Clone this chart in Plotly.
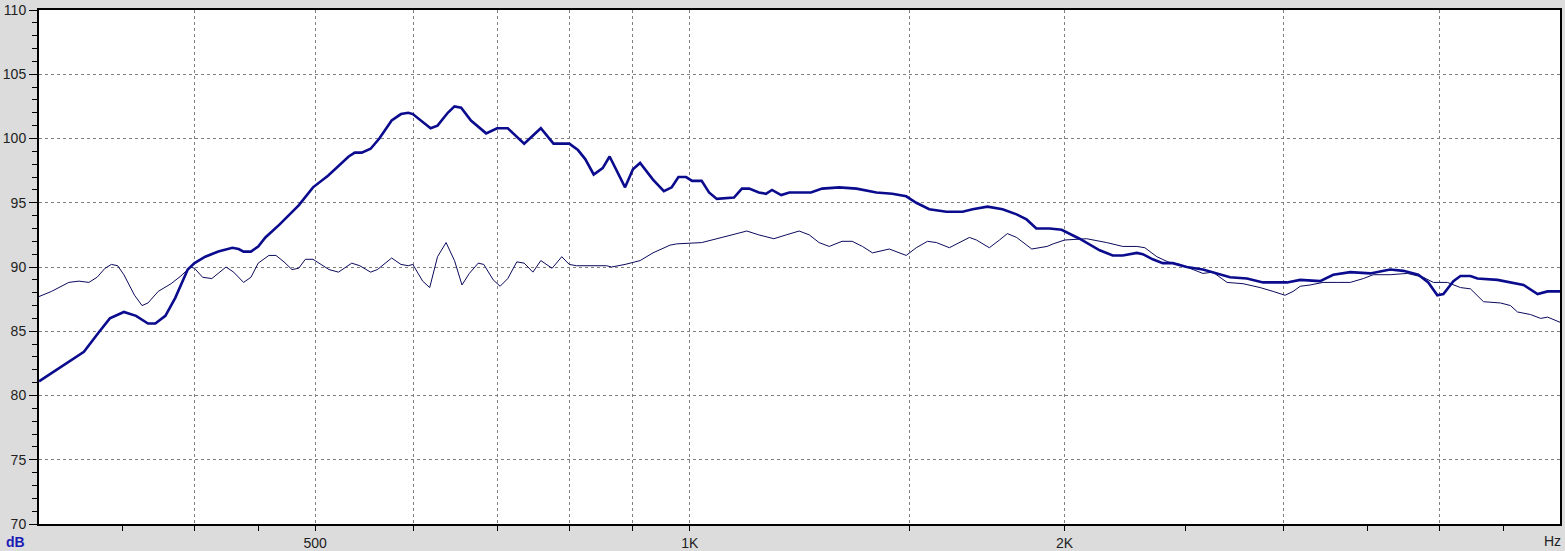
import math
import plotly.graph_objects as go

# Thick curve (frequency in Hz, level in dB)
thick_freq = [300, 311, 326, 335, 342, 351, 359, 367, 372, 379, 386, 395, 400, 408, 418, 429, 434, 438, 444, 450,
              456, 468, 485, 498, 512, 532, 538, 545, 554, 563, 576, 586, 594, 599, 610, 619, 627, 639, 647, 655,
              667, 676, 686, 700, 714, 736, 759, 777, 800, 813, 824, 837, 851, 862, 875, 887, 900, 912, 934, 953,
              967, 979, 993, 1004, 1022, 1036, 1051, 1085, 1101, 1116, 1136, 1151, 1164, 1184, 1202, 1251, 1277,
              1318, 1361, 1412, 1454, 1492, 1520, 1557, 1607, 1656, 1687, 1734, 1783, 1830, 1864, 1898, 1945, 1989,
              2056, 2134, 2186, 2227, 2286, 2311, 2354, 2398, 2443, 2507, 2583, 2651, 2716, 2802, 2887, 3018, 3092,
              3208, 3287, 3392, 3520, 3652, 3742, 3847, 3919, 3985, 4030, 4105, 4159, 4237, 4292, 4454, 4562, 4674,
              4797, 4887, 5000]
thick_db = [81.1, 82.1, 83.4, 84.9, 86.0, 86.5, 86.2, 85.6, 85.6, 86.2, 87.6, 89.8, 90.3, 90.8, 91.2, 91.5, 91.4, 91.2, 91.2, 91.6,
            92.3, 93.3, 94.8, 96.2, 97.1, 98.6, 98.9, 98.9, 99.2, 100.0, 101.4, 101.9, 102.0, 101.9, 101.3, 100.8, 101.0, 102.0, 102.5, 102.4,
            101.4, 100.9, 100.4, 100.8, 100.8, 99.6, 100.8, 99.6, 99.6, 99.1, 98.4, 97.2, 97.7, 98.6, 97.3, 96.2, 97.6, 98.1, 96.8, 95.9,
            96.2, 97.0, 97.0, 96.7, 96.7, 95.8, 95.3, 95.4, 96.1, 96.1, 95.8, 95.7, 96.0, 95.6, 95.8, 95.8, 96.1,
            96.2, 96.1, 95.8, 95.7, 95.5, 95.0, 94.5, 94.3, 94.3, 94.5, 94.7, 94.5, 94.1, 93.7, 93.0, 93.0, 92.9,
            92.2, 91.3, 90.9, 90.9, 91.1, 91.0, 90.6, 90.3, 90.3, 90.0, 89.8, 89.5, 89.2, 89.1, 88.8, 88.8, 89.0,
            88.9, 89.4, 89.6, 89.5, 89.8, 89.7, 89.4, 88.8, 87.8, 87.9, 88.9, 89.3, 89.3, 89.1, 89.0, 88.8, 88.6,
            87.9, 88.1, 88.1]

# Thin curve
thin_freq = [300, 307, 317, 323, 329, 334, 339, 343, 347, 351, 358, 363, 367, 374, 383, 390, 397, 400, 406, 413,
             424, 430, 438, 444, 450, 459, 465, 472, 479, 485, 491, 498, 513, 522, 535, 543, 554, 561, 576, 586,
             594, 599, 610, 618, 627, 637, 647, 656, 665, 676, 683, 695, 704, 714, 726, 736, 748, 759, 775, 789,
             800, 811, 857, 865, 887, 912, 934, 964, 976, 1022, 1061, 1089, 1111, 1136, 1168, 1195, 1224, 1247,
             1270, 1294, 1325, 1350, 1376, 1402, 1446, 1492, 1520, 1552, 1578, 1616, 1646, 1677, 1699, 1740, 1773,
             1799, 1830, 1882, 1936, 1958, 2000, 2083, 2162, 2227, 2286, 2320, 2372, 2421, 2475, 2535, 2583, 2631,
             2701, 2782, 2871, 2941, 3007, 3052, 3092, 3149, 3226, 3311, 3392, 3475, 3540, 3652, 3770, 3883, 3956,
             4060, 4159, 4237, 4340, 4479, 4562, 4622, 4735, 4824, 4887, 5000]
thin_db = [87.7, 88.1, 88.8, 88.9, 88.8, 89.2, 89.9, 90.2, 90.1, 89.4, 87.8, 87.0, 87.2, 88.1, 88.7, 89.3, 90.0, 89.9, 89.2, 89.1,
           90.0, 89.6, 88.8, 89.2, 90.3, 90.9, 90.9, 90.4, 89.8, 89.9, 90.6, 90.6, 89.8, 89.6, 90.3, 90.1, 89.6, 89.8, 90.7, 90.2,
           90.1, 90.2, 88.9, 88.4, 90.8, 91.9, 90.5, 88.6, 89.5, 90.3, 90.2, 89.0, 88.5, 89.1, 90.4, 90.3, 89.6, 90.5, 89.9, 90.8,
           90.2, 90.1, 90.1, 90.0, 90.2, 90.5, 91.1, 91.7, 91.8, 91.9, 92.3, 92.6, 92.8, 92.5, 92.2, 92.5, 92.8, 92.5,
           91.9, 91.6, 92.0, 92.0, 91.6, 91.1, 91.4, 90.9, 91.5, 92.0, 91.9, 91.5, 91.9, 92.3, 92.1, 91.5, 92.1,
           92.6, 92.3, 91.4, 91.6, 91.8, 92.1, 92.2, 91.9, 91.6, 91.6, 91.5, 90.8, 90.4, 90.2, 89.8, 89.5, 89.6,
           88.8, 88.7, 88.4, 88.1, 87.8, 88.1, 88.5, 88.6, 88.8, 88.8, 88.8, 89.1, 89.4, 89.4, 89.5, 89.2, 88.8,
           88.8, 88.4, 88.3, 87.3, 87.2, 87.0, 86.5, 86.3, 86.0, 86.1, 85.7]

# Axis ticks
x_grid_vals = [400, 500, 600, 700, 800, 900, 1000, 1500, 2000, 3000, 4000]
x_grid_text = ["", "500", "", "", "", "", "1K", "", "2K", "", ""]
x_minor_vals = [350, 450, 2500, 3500, 4500]
y_tick_vals = [70, 75, 80, 85, 90, 95, 100, 105, 110]

FONT = "Liberation Sans, Arial, sans-serif"

fig = go.Figure()
fig.add_trace(go.Scatter(x=thin_freq, y=thin_db, mode="lines",
                         line=dict(color="#0a0a5c", width=1), showlegend=False))
fig.add_trace(go.Scatter(x=thick_freq, y=thick_db, mode="lines",
                         line=dict(color="#0b0b8e", width=2.6), showlegend=False))

# solid 1K line
fig.add_shape(type="line", xref="x", yref="paper", x0=math.log10(1000), x1=math.log10(1000),
              y0=0, y1=1, line=dict(color="#808080", width=1), layer="below")

fig.update_layout(
    width=1565, height=551,
    margin=dict(l=39, r=5, t=10, b=27, autoexpand=False),
    paper_bgcolor="#dcdcdc",
    plot_bgcolor="white",
    font=dict(family=FONT, size=14, color="#222222"),
    xaxis=dict(
        type="log", range=[math.log10(300), math.log10(5000)], automargin=False,
        tickmode="array", tickvals=x_grid_vals, ticktext=x_grid_text,
        ticks="outside", ticklen=5, tickwidth=1, tickcolor="black",
        showgrid=True, gridcolor="#808080", gridwidth=1, griddash="3px,3px",
        showline=True, linecolor="black", linewidth=2, mirror=True,
        zeroline=False,
        minor=dict(tickmode="array", tickvals=x_minor_vals, ticks="outside", ticklen=5,
                   tickcolor="black", tickwidth=1, showgrid=False),
        tickfont=dict(family=FONT, size=14, color="#222222"),
    ),
    yaxis=dict(
        range=[70, 110], tickmode="array", tickvals=y_tick_vals, automargin=False,
        ticks="outside", ticklen=8, tickwidth=1, tickcolor="black",
        showgrid=True, gridcolor="#808080", gridwidth=1, griddash="3px,3px",
        showline=True, linecolor="black", linewidth=2, mirror=True,
        zeroline=False,
        minor=dict(dtick=1, ticks="outside", ticklen=5, tickcolor="black", tickwidth=1, showgrid=False),
        tickfont=dict(family=FONT, size=14, color="#222222"),
    ),
    annotations=[
        dict(text="<b>dB</b>", xref="paper", yref="paper", x=(15 - 39) / 1521, y=(524 - 542) / 514,
             showarrow=False, xanchor="center", yanchor="middle",
             font=dict(family=FONT, size=14, color="#1a1ab4")),
        dict(text="Hz", xref="paper", yref="paper", x=(1552 - 39) / 1521, y=(524 - 541) / 514,
             showarrow=False, xanchor="center", yanchor="middle",
             font=dict(family=FONT, size=14, color="#222222")),
    ],
)

fig.write_html(
    "out.html",
    config={"displayModeBar": False},
    post_script="document.body.style.margin='0';document.body.style.background='#dcdcdc';",
)
